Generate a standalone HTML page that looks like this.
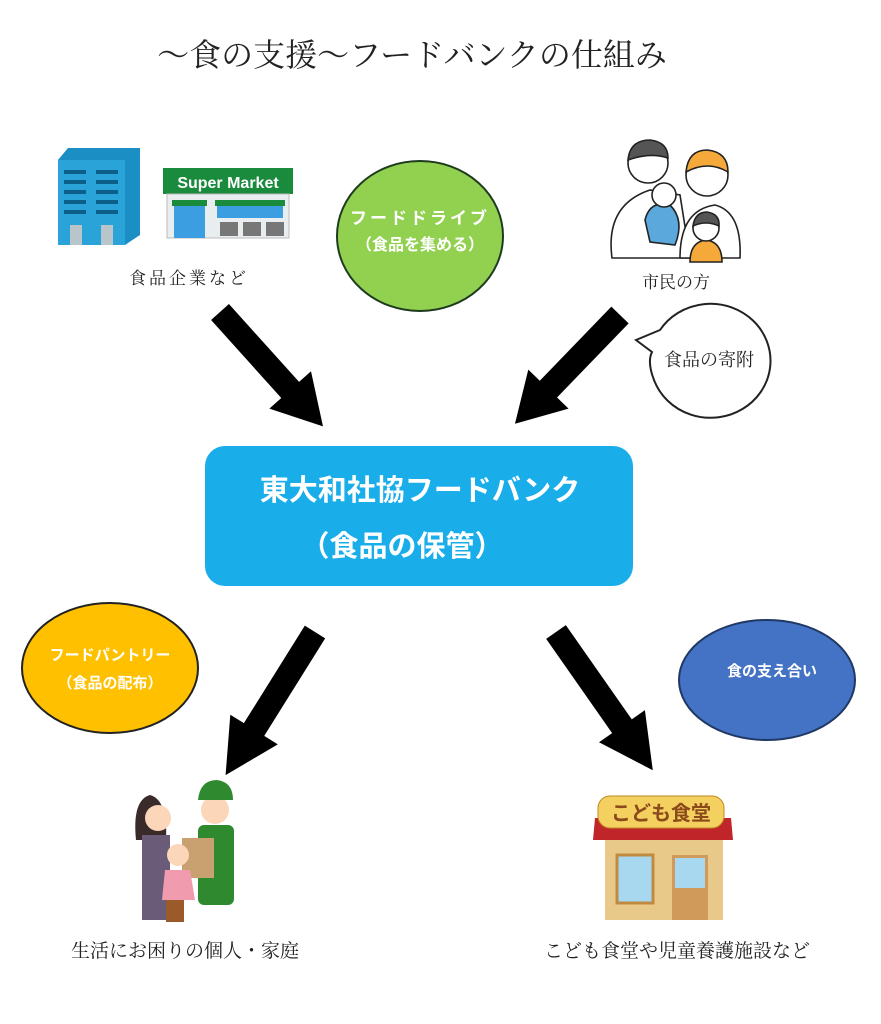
<!DOCTYPE html>
<html><head><meta charset="utf-8"><style>
html,body{margin:0;padding:0;background:#fff;}
svg{display:block;}
.m{font-family:"Liberation Serif","Noto Serif CJK SC",serif;fill:#222;}
.b{font-family:"Liberation Sans","Noto Sans CJK JP",sans-serif;font-weight:bold;fill:#fff;}
</style></head><body>
<svg width="881" height="1024" viewBox="0 0 881 1024" xmlns="http://www.w3.org/2000/svg">
<rect width="881" height="1024" fill="#fff"/>
<text x="412" y="66" class="m" font-size="32" text-anchor="middle">～食の支援～フードバンクの仕組み</text>

<!-- building -->
<polygon points="58,160 68,148 140,148 140,235 125,245 58,245" fill="#1b8fc4"/>
<rect x="58" y="160" width="67" height="85" fill="#2aa3d8"/>
<g fill="#0d5f8a">
<rect x="64" y="170" width="22" height="4"/><rect x="96" y="170" width="22" height="4"/>
<rect x="64" y="180" width="22" height="4"/><rect x="96" y="180" width="22" height="4"/>
<rect x="64" y="190" width="22" height="4"/><rect x="96" y="190" width="22" height="4"/>
<rect x="64" y="200" width="22" height="4"/><rect x="96" y="200" width="22" height="4"/>
<rect x="64" y="210" width="22" height="4"/><rect x="96" y="210" width="22" height="4"/>
</g>
<rect x="70" y="225" width="12" height="20" fill="#b8c6cc"/><rect x="101" y="225" width="12" height="20" fill="#b8c6cc"/>
<!-- supermarket -->
<rect x="163" y="168" width="130" height="26" fill="#1a8a3c"/>
<text x="228" y="188" font-family="Liberation Sans,sans-serif" font-weight="bold" font-size="16" fill="#fff" text-anchor="middle">Super Market</text>
<rect x="167" y="194" width="122" height="44" fill="#e8eef0" stroke="#bbb"/>
<rect x="172" y="200" width="35" height="6" fill="#1a8a3c"/><rect x="215" y="200" width="70" height="6" fill="#1a8a3c"/>
<rect x="174" y="206" width="31" height="32" fill="#3b9ee0"/>
<rect x="217" y="206" width="66" height="12" fill="#3b9ee0"/>
<g fill="#777"><rect x="220" y="222" width="18" height="14"/><rect x="243" y="222" width="18" height="14"/><rect x="266" y="222" width="18" height="14"/></g>
<text x="189" y="284" class="m" font-size="17" text-anchor="middle" letter-spacing="3">食品企業など</text>

<!-- green ellipse -->
<ellipse cx="420" cy="236" rx="83" ry="75" fill="#92d050" stroke="#1f3b1f" stroke-width="2"/>
<text x="420" y="224" class="b" font-size="17" text-anchor="middle" letter-spacing="3">フードドライブ</text>
<text x="420" y="250" class="b" font-size="16" text-anchor="middle">（食品を集める）</text>

<!-- family -->
<g stroke="#222" stroke-width="1.6">
<path d="M612,258 Q605,205 650,190 L680,195 L690,258 Z" fill="#fff"/>
<circle cx="648" cy="163" r="20" fill="#fff"/>
<path d="M628,160 Q630,140 650,140 Q668,142 668,158 Q650,152 628,160Z" fill="#555"/>
<path d="M680,258 Q680,210 715,205 Q742,212 740,258Z" fill="#fff"/>
<circle cx="707" cy="175" r="21" fill="#fff"/>
<path d="M686,172 Q688,150 707,150 Q728,152 728,172 Q708,160 686,172Z" fill="#f4a93a"/>
<path d="M645,220 Q650,200 670,205 Q685,220 675,245 L650,242Z" fill="#5aa8dc"/>
<circle cx="664" cy="195" r="12" fill="#fff"/>
<path d="M690,262 Q690,242 706,240 Q722,242 722,262Z" fill="#f4a93a"/>
<circle cx="706" cy="228" r="13" fill="#fff"/>
<path d="M693,226 Q695,212 707,212 Q720,214 719,226 Q706,220 693,226Z" fill="#555"/>
</g>
<text x="676" y="288" class="m" font-size="17" text-anchor="middle">市民の方</text>

<!-- speech bubble -->
<path d="M660,330 A60,57 0 1 1 654,380 Q647,362 652,352 L636,340 Z" fill="#fff" stroke="#222" stroke-width="2"/>
<text x="709" y="366" class="m" font-size="18" text-anchor="middle">食品の寄附</text>

<!-- arrows -->
<defs>
<g id="arr"><polygon points="0,-12 92,-12 92,-28 135,0 92,28 92,12 0,12" fill="#000"/></g>
</defs>
<use href="#arr" transform="translate(220,312) rotate(48) scale(1.14,1)"/>
<use href="#arr" transform="translate(620,315) rotate(134) scale(1.12,1)"/>
<use href="#arr" transform="translate(315,632) rotate(122) scale(1.25,1)"/>
<use href="#arr" transform="translate(556,632) rotate(55) scale(1.25,1)"/>

<!-- center box -->
<rect x="205" y="446" width="428" height="140" rx="20" fill="#19ade9"/>
<text x="420" y="500" class="b" font-size="29" text-anchor="middle">東大和社協フードバンク</text>
<text x="402" y="556" class="b" font-size="29" text-anchor="middle">（食品の保管）</text>

<!-- yellow ellipse -->
<ellipse cx="110" cy="668" rx="88" ry="65" fill="#ffc000" stroke="#222" stroke-width="2"/>
<text x="110" y="660" class="b" font-size="15" text-anchor="middle">フードパントリー</text>
<text x="110" y="688" class="b" font-size="15" text-anchor="middle">（食品の配布）</text>

<!-- blue ellipse -->
<ellipse cx="767" cy="680" rx="88" ry="60" fill="#4472c4" stroke="#1f3864" stroke-width="2"/>
<text x="772" y="676" class="b" font-size="15" text-anchor="middle">食の支え合い</text>

<!-- people illus -->
<path d="M136,840 Q132,800 150,795 Q168,800 166,840Z" fill="#3a2a2a"/>
<circle cx="158" cy="818" r="13" fill="#fbd6b8"/>
<rect x="142" y="835" width="28" height="85" fill="#6a5c78"/>
<circle cx="215" cy="810" r="14" fill="#fbd6b8"/>
<path d="M198,800 Q200,780 217,780 Q233,782 233,800Z" fill="#2f8a2f"/>
<rect x="198" y="825" width="36" height="80" rx="6" fill="#2f8a2f"/>
<rect x="182" y="838" width="32" height="40" fill="#c9a070"/>
<circle cx="178" cy="855" r="11" fill="#fbd6b8"/>
<path d="M165,870 L190,870 L195,900 L162,900Z" fill="#f19cae"/>
<rect x="166" y="900" width="18" height="22" fill="#9a5a2a"/>
<text x="185" y="957" class="m" font-size="19" text-anchor="middle">生活にお困りの個人・家庭</text>

<!-- kodomo shokudo -->
<rect x="605" y="828" width="118" height="92" fill="#e8c98a"/>
<path d="M595,818 L731,818 L733,840 L593,840Z" fill="#c0252a"/>
<rect x="598" y="796" width="126" height="32" rx="12" fill="#f4d060" stroke="#c08a20"/>
<text x="661" y="820" font-family="Liberation Sans,'Noto Sans CJK JP',sans-serif" font-weight="bold" font-size="20" fill="#8a4a1a" text-anchor="middle">こども食堂</text>
<rect x="617" y="855" width="36" height="48" fill="#a8d8f0" stroke="#c08a40" stroke-width="3"/>
<rect x="672" y="855" width="36" height="65" fill="#d09a5a"/>
<rect x="675" y="858" width="30" height="30" fill="#a8d8f0"/>
<text x="677" y="957" class="m" font-size="19" text-anchor="middle">こども食堂や児童養護施設など</text>
</svg>
</body></html>
